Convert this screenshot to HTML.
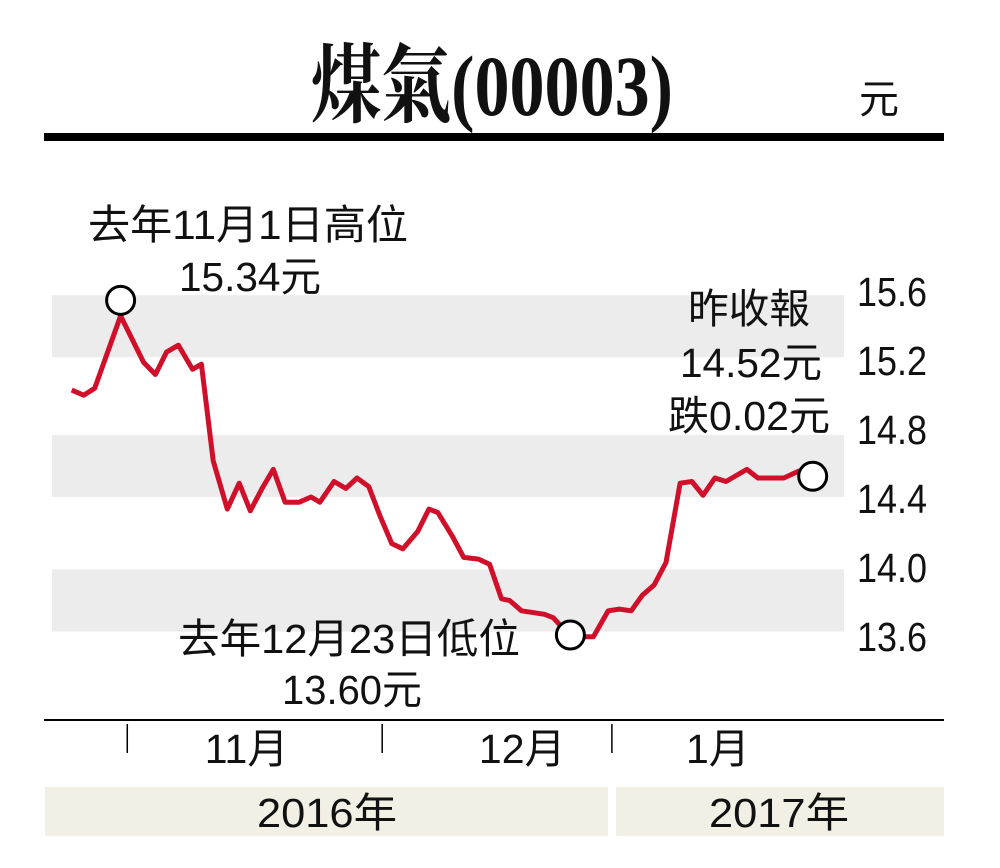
<!DOCTYPE html>
<html><head><meta charset="utf-8"><style>
html,body{margin:0;padding:0;background:#fff;}
svg{display:block;}
text{font-family:"Liberation Sans","Noto Sans CJK TC",sans-serif;fill:#111;}
</style></head><body>
<svg id="chart" width="1000" height="868" viewBox="0 0 1000 868" xmlns="http://www.w3.org/2000/svg">
<text x="492" y="115" text-anchor="middle" font-size="86" font-weight="bold" textLength="362" lengthAdjust="spacingAndGlyphs" style="font-family:'Liberation Serif','Noto Serif CJK SC',serif">煤氣(00003)</text>
<text x="879" y="113" text-anchor="middle" font-size="40">元</text>
<rect x="44" y="133" width="900" height="8" fill="#000"/>
<g id="bands"></g>
<g id="yaxis"></g>
<g id="series"></g>
<g id="ann">
<text x="88" y="239" font-size="41" textLength="320" lengthAdjust="spacingAndGlyphs">去年11月1日高位</text>
<text x="179" y="291" font-size="41" textLength="142" lengthAdjust="spacingAndGlyphs">15.34元</text>
<text x="810" y="323" text-anchor="end" font-size="41" textLength="122" lengthAdjust="spacingAndGlyphs">昨收報</text>
<text x="822" y="377" text-anchor="end" font-size="41" textLength="142" lengthAdjust="spacingAndGlyphs">14.52元</text>
<text x="830" y="430" text-anchor="end" font-size="41" textLength="162" lengthAdjust="spacingAndGlyphs">跌0.02元</text>
<text x="178" y="653" font-size="41" textLength="342" lengthAdjust="spacingAndGlyphs">去年12月23日低位</text>
<text x="282" y="704" font-size="41" textLength="140" lengthAdjust="spacingAndGlyphs">13.60元</text>
</g>
<line x1="44" y1="720" x2="944" y2="720" stroke="#000" stroke-width="2"/>
<g id="xaxis"></g>
<rect x="45" y="787" width="563" height="49" fill="#f2efe4"/>
<rect x="616" y="787" width="328" height="49" fill="#f2efe4"/>
<text x="327" y="827" text-anchor="middle" font-size="41" textLength="140" lengthAdjust="spacingAndGlyphs">2016年</text>
<text x="779" y="827" text-anchor="middle" font-size="41" textLength="140" lengthAdjust="spacingAndGlyphs">2017年</text>
</svg>
<script>
const yTicks=[15.6,15.2,14.8,14.4,14.0,13.6];
const yTickLabels=["15.6","15.2","14.8","14.4","14.0","13.6"];
const bandRanges=[[15.57,15.21],[14.76,14.4],[13.98,13.62]];
const monthTicks=[7.5,41.9,72.9];
const monthLabels=["11月","12月","1月"];
const monthLabelPos=[23.6,60.8,87.2];
const sessions=[0,1.6,3.1,6.6,9.7,11.3,12.8,14.4,16.3,17.5,19.1,21,22.6,24.1,25.7,27.2,28.8,30.7,32.3,33.5,35.4,37,38.5,40.1,41.6,43.2,44.7,46.7,48.2,49.4,51.4,52.9,54.9,56.4,58,59.1,60.7,63.8,65,67.3,70.4,72.4,73.9,75.5,77,78.6,80.2,82.1,83.7,85.2,86.8,88.3,91.1,92.6,96.1,98.1,100];
const prices=[15.02,14.99,15.03,15.45,15.18,15.11,15.24,15.28,15.14,15.17,14.61,14.33,14.48,14.32,14.45,14.56,14.37,14.37,14.40,14.37,14.49,14.45,14.51,14.46,14.29,14.13,14.10,14.20,14.33,14.31,14.17,14.05,14.04,14.01,13.81,13.80,13.74,13.72,13.70,13.59,13.59,13.74,13.75,13.74,13.83,13.89,14.02,14.48,14.49,14.41,14.51,14.49,14.56,14.51,14.51,14.55,14.52];
const markerIdx=[3,39,56];
const markerY=[15.54,13.6,14.52];
const NS="http://www.w3.org/2000/svg";
const yS=v=>290+(15.6-v)*172.5;
const xS=t=>71.7+t*7.41;
function mk(tag,attrs,parent){const e=document.createElementNS(NS,tag);for(const k in attrs)e.setAttribute(k,attrs[k]);parent.appendChild(e);return e;}
const bands=document.getElementById('bands');
bandRanges.forEach(r=>{
 const e=mk('rect',{x:52,y:yS(r[0]),width:792,height:yS(r[1])-yS(r[0]),fill:'#ececec'},bands);
 
 
});
const ya=document.getElementById('yaxis');
yTicks.forEach((v,i)=>{
 const t=mk('text',{x:857,y:yS(v)+16,'font-size':41,textLength:70,lengthAdjust:'spacingAndGlyphs'},ya);
 t.textContent=yTickLabels[i];
 
 
});
const xa=document.getElementById('xaxis');
monthTicks.forEach(t=>{
 const l=mk('line',{x1:xS(t),y1:724,x2:xS(t),y2:753,stroke:'#000','stroke-width':1.5},xa);
 
 
});
monthLabels.forEach((s,i)=>{
 const t=mk('text',{x:xS(monthLabelPos[i]),y:763,'text-anchor':'middle','font-size':41},xa);
 t.textContent=s;
 
 
});
const sg=document.getElementById('series');
const d=prices.map((p,i)=>(i?'L':'M')+xS(sessions[i]).toFixed(1)+','+yS(p).toFixed(1)).join('');
const path=mk('path',{d:d,fill:'none',stroke:'#d0102a','stroke-width':5,'stroke-linejoin':'round'},sg);


markerIdx.forEach((idx,i)=>{
 const c=mk('circle',{cx:xS(sessions[idx]),cy:yS(markerY[i]),r:14,fill:'#fff',stroke:'#000','stroke-width':3},sg);
 
 
});
</script>
</body></html>
